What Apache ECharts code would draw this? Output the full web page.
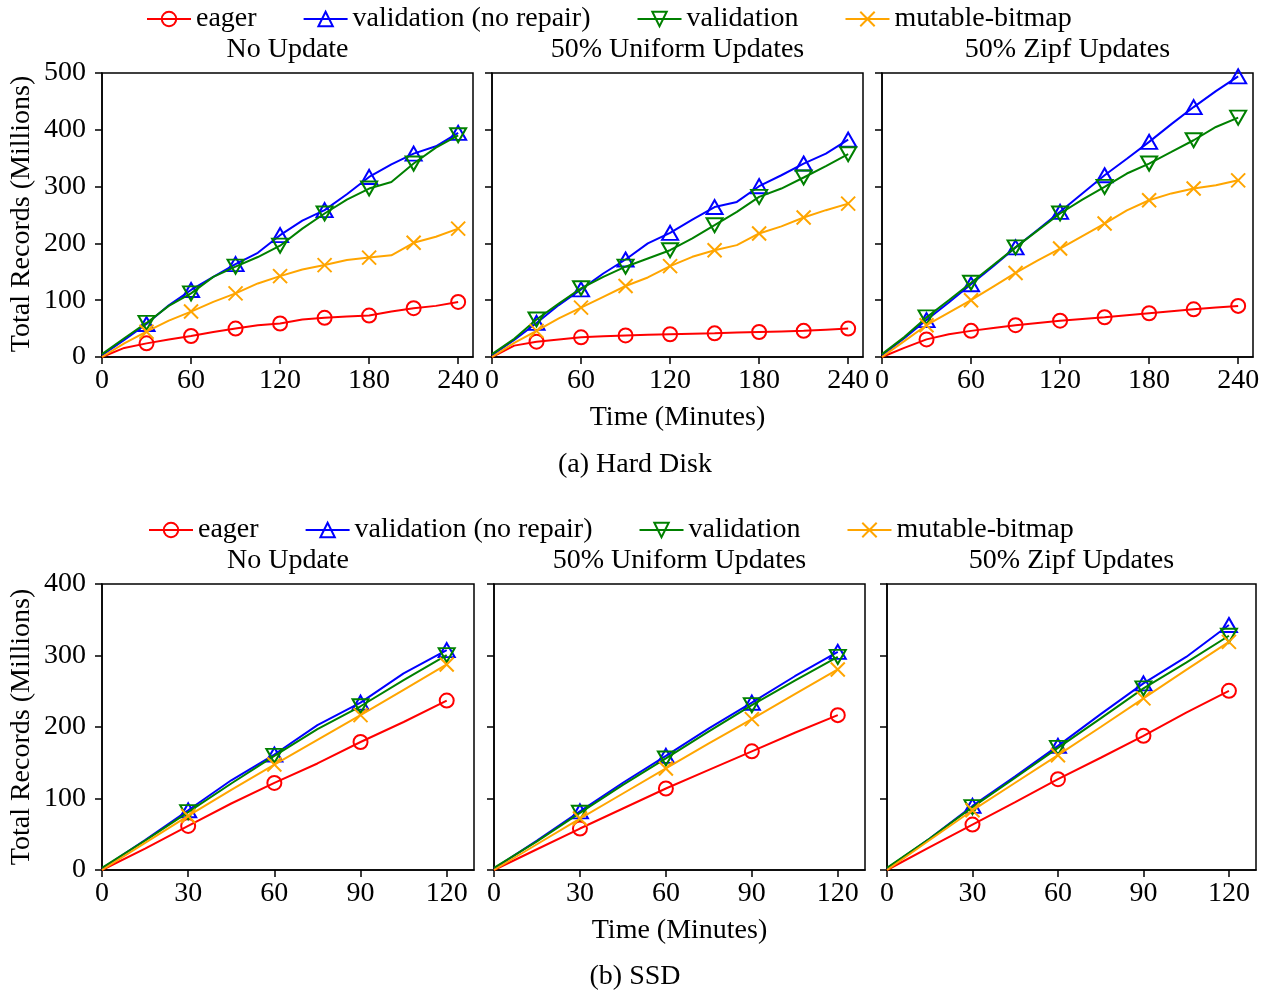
<!DOCTYPE html>
<html><head><meta charset="utf-8">
<script src="https://cdn.jsdelivr.net/npm/echarts/dist/echarts.min.js"></script>
<style>html,body{margin:0;padding:0;background:#fff}#c{width:1267px;height:995px}</style>
</head><body><div id="c"></div>
<script>
// ---------- data ----------
const seriesNames = ['eager', 'validation (no repair)', 'validation', 'mutable-bitmap'];
const panelTitles = ['No Update', '50% Uniform Updates', '50% Zipf Updates'];
const captions = ['(a) Hard Disk', '(b) SSD'];
const xName = 'Time (Minutes)';
const yName = 'Total Records (Millions)';

const hddTime = [0, 15, 30, 45, 60, 75, 90, 105, 120, 135, 150, 165, 180, 195, 210, 225, 240];
const ssdTime = [0, 15, 30, 45, 60, 75, 90, 105, 120];
const hddTicksX = [0, 60, 120, 180, 240];
const ssdTicksX = [0, 30, 60, 90, 120];
const hddTicksY = [0, 100, 200, 300, 400, 500];
const ssdTicksY = [0, 100, 200, 300, 400];

// Hard disk, No Update
const hddNoEager    = [0, 16, 24, 31, 37, 44, 50, 56, 59, 66, 69, 71.5, 73, 80, 86, 90, 97];
const hddNoNoRepair = [3, 30, 58, 91, 118, 141, 163.5, 183.5, 214.5, 240, 258.5, 286.6, 317, 339, 358, 371, 394.5];
const hddNoValid    = [5, 33, 60, 90, 112, 141, 159, 176, 196, 226, 252.6, 277, 296.6, 308, 340.6, 368.7, 390.4];
const hddNoMutable  = [0, 24, 44.5, 64, 80, 97, 112, 129.5, 142.4, 154, 161.8, 170.6, 175, 179, 201, 211.6, 226];
// Hard disk, 50% Uniform
const hddUniEager    = [0, 20, 27, 31, 34.6, 36.5, 38, 39, 40, 41, 41.6, 43, 44, 45, 46, 48, 50];
const hddUniNoRepair = [3, 30, 60, 91.4, 119, 147, 171.7, 200, 218.6, 242, 264, 273, 300.7, 320, 340.6, 358, 382.8];
const hddUniValid    = [5, 32, 66, 94, 121, 141, 159, 173.5, 188, 208.7, 232, 255.6, 282, 296.6, 316, 336, 357];
const hddUniMutable  = [0, 25, 46, 68, 87, 106, 125, 140, 160, 176.4, 188, 197, 217.5, 230, 245.6, 258.5, 270];
// Hard disk, 50% Zipf
const hddZipfEager    = [0, 16, 31, 40, 46, 51, 56, 60, 64, 67, 70, 73.5, 77, 80.5, 84, 87, 90];
const hddZipfNoRepair = [3, 33, 65, 96, 128, 160, 193, 224, 255.6, 288, 320, 349, 378.7, 410, 440, 468, 494];
const hddZipfValid    = [5, 35, 69.7, 100, 130.7, 162, 193, 223, 252.6, 277, 299.5, 323, 340.6, 361, 381.6, 405, 421.5];
const hddZipfMutable  = [0, 28, 56, 78, 100, 124, 148, 170, 191, 213, 235, 258, 276, 288, 296.6, 302.5, 311];
// SSD, No Update
const ssdNoEager    = [0, 30, 61.6, 93, 121.8, 149, 179, 207, 237];
const ssdNoNoRepair = [2, 42, 83.5, 125.5, 161.5, 202.6, 234, 275, 307.6];
const ssdNoValid    = [3, 41, 81, 121, 159.6, 197, 229, 265.6, 300.6];
const ssdNoMutable  = [0, 38, 75.6, 112, 147.5, 182, 216.6, 252, 287.5];
// SSD, 50% Uniform
const ssdUniEager    = [0, 29, 58, 86, 114, 140, 166, 192, 216.6];
const ssdUniNoRepair = [2, 41, 82, 122, 159.6, 198, 234, 271, 305];
const ssdUniValid    = [3, 40, 80, 119, 156, 194, 230.6, 265, 298];
const ssdUniMutable  = [0, 36, 72, 107, 142, 177, 211, 246, 280.5];
// SSD, 50% Zipf
const ssdZipfEager    = [0, 32, 63.5, 95, 127, 157, 187.6, 220, 250.6];
const ssdZipfNoRepair = [2, 44, 89.6, 131, 173.6, 218, 261, 298, 342.6];
const ssdZipfValid    = [3, 44, 88, 129, 170.8, 212, 254, 290, 327.6];
const ssdZipfMutable  = [0, 42, 83.5, 122, 160.6, 200, 240, 280, 319];

// ---------- layout / style ----------
const FONT = 'Liberation Serif';
const FS = 28;
const panels = [
  { t: hddTime, xt: hddTicksX, yt: hddTicksY, xmax: 250, ymax: 500, left: 102, width: 371, top: 73, height: 284,
    data: [hddNoEager, hddNoNoRepair, hddNoValid, hddNoMutable] },
  { t: hddTime, xt: hddTicksX, yt: hddTicksY, xmax: 250, ymax: 500, left: 492, width: 371, top: 73, height: 284,
    data: [hddUniEager, hddUniNoRepair, hddUniValid, hddUniMutable] },
  { t: hddTime, xt: hddTicksX, yt: hddTicksY, xmax: 250, ymax: 500, left: 882, width: 371, top: 73, height: 284,
    data: [hddZipfEager, hddZipfNoRepair, hddZipfValid, hddZipfMutable] },
  { t: ssdTime, xt: ssdTicksX, yt: ssdTicksY, xmax: 129.5, ymax: 400, left: 102, width: 372, top: 584, height: 286,
    data: [ssdNoEager, ssdNoNoRepair, ssdNoValid, ssdNoMutable] },
  { t: ssdTime, xt: ssdTicksX, yt: ssdTicksY, xmax: 129.5, ymax: 400, left: 494, width: 371, top: 584, height: 286,
    data: [ssdUniEager, ssdUniNoRepair, ssdUniValid, ssdUniMutable] },
  { t: ssdTime, xt: ssdTicksX, yt: ssdTicksY, xmax: 129.5, ymax: 400, left: 887, width: 369, top: 584, height: 286,
    data: [ssdZipfEager, ssdZipfNoRepair, ssdZipfValid, ssdZipfMutable] }
];
const styles = [
  { color: '#ff0000', symbol: 'circle', size: 14 },
  { color: '#0000ff', symbol: 'triangle', size: [16, 14] },
  { color: '#008000', symbol: 'path://M0,0L20,0L10,17.3Z', size: [16, 14] },
  { color: '#ffa500', symbol: 'path://M0,0L10,10M10,0L0,10', size: 14 }
];

const grids = [], xAxes = [], yAxes = [], series = [];
panels.forEach((p, gi) => {
  grids.push({ left: p.left, top: p.top, width: p.width, height: p.height, show: true,
    borderColor: '#000', borderWidth: 1.5, backgroundColor: 'transparent' });
  xAxes.push({ gridIndex: gi, type: 'value', min: 0, max: p.xmax, interval: p.xt[1] - p.xt[0],
    axisLine: { show: true, onZero: false, lineStyle: { color: '#000', width: 1.5 } },
    axisTick: { show: true, customValues: p.xt, length: 7, lineStyle: { color: '#000', width: 1.5 } },
    axisLabel: { customValues: p.xt, color: '#000', fontFamily: FONT, fontSize: FS, margin: 10 },
    splitLine: { show: false } });
  yAxes.push({ gridIndex: gi, type: 'value', min: 0, max: p.ymax, interval: 100,
    axisLine: { show: true, onZero: false, lineStyle: { color: '#000', width: 1.5 } },
    axisTick: { show: true, length: 7, lineStyle: { color: '#000', width: 1.5 } },
    axisLabel: { show: gi % 3 === 0, color: '#000', fontFamily: FONT, fontSize: FS, margin: 16 },
    splitLine: { show: false } });
  p.data.forEach((vals, si) => {
    const st = styles[si];
    series.push({
      type: 'line', name: seriesNames[si], xAxisIndex: gi, yAxisIndex: gi,
      data: p.t.map((t, i) => (t > 0 && t % 30 === 0) ? [t, vals[i]] : { value: [t, vals[i]], symbol: 'none' }),
      symbol: st.symbol, symbolSize: st.size, showSymbol: true,
      itemStyle: { color: 'none', borderColor: st.color, borderWidth: 2 },
      lineStyle: { color: st.color, width: 2 },
      clip: true, animation: false, emphasis: { disabled: true }, z: 2 + si
    });
  });
});

const legendBase = {
  data: seriesNames, itemWidth: 44, itemHeight: 18, itemGap: 46,
  itemStyle: { borderWidth: 2 },
  textStyle: { color: '#000', fontFamily: FONT, fontSize: FS }, selectedMode: false
};

const texts = [];
function addText(txt, x, y, rot) {
  texts.push({ type: 'text', x: x, y: y, rotation: rot || 0,
    style: { text: txt, fill: '#000', font: FS + 'px "' + FONT + '"', align: 'center', verticalAlign: 'middle' } });
}
panels.forEach((p, gi) => addText(panelTitles[gi % 3], p.left + p.width / 2, gi < 3 ? 50 : 561));
addText(xName, 677.5, 418);
addText(xName, 679.5, 931);
addText(captions[0], 635, 465);
addText(captions[1], 635, 977);
addText(yName, 22, 214, Math.PI / 2);
addText(yName, 22, 727, Math.PI / 2);

const chart = echarts.init(document.getElementById('c'), null, { renderer: 'canvas' });
chart.setOption({
  animation: false,
  backgroundColor: '#fff',
  grid: grids, xAxis: xAxes, yAxis: yAxes, series: series,
  legend: [
    Object.assign({}, legendBase, { left: 141, top: 0 }),
    Object.assign({}, legendBase, { left: 143, top: 511 })
  ],
  graphic: texts
});
</script></body></html>
